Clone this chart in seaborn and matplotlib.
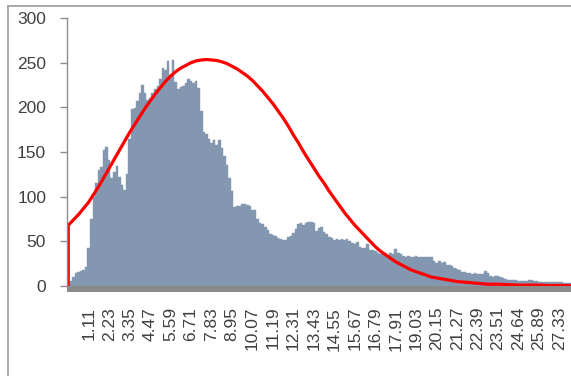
import numpy as np
import matplotlib
matplotlib.use("Agg")
import matplotlib.pyplot as plt
import seaborn as sns
from matplotlib.lines import Line2D
from matplotlib.patches import Rectangle

sns.set_style("white")
plt.rcParams['font.family'] = ['Liberation Sans', 'DejaVu Sans']

# histogram counts per bin (197 bins)
counts = [
    3, 6, 10, 14, 16, 17, 18, 21, 42, 75,
    100, 115, 130, 133, 152, 156, 141, 121, 128, 134,
    122, 113, 107, 125, 165, 198, 199, 207, 216, 225,
    216, 208, 211, 216, 220, 224, 232, 244, 242, 252,
    236, 253, 228, 220, 223, 224, 227, 232, 230, 227,
    229, 222, 196, 172, 170, 164, 160, 163, 158, 163,
    155, 146, 135, 121, 106, 88, 90, 89, 92, 92,
    91, 89, 85, 85, 75, 70, 69, 66, 63, 58,
    57, 56, 54, 53, 52, 51, 55, 56, 59, 64,
    69, 70, 68, 70, 72, 72, 71, 62, 65, 66,
    60, 58, 55, 54, 51, 53, 51, 53, 52, 53,
    50, 48, 47, 49, 44, 43, 42, 47, 40, 40,
    39, 37, 36, 36, 36, 35, 37, 36, 41, 37,
    36, 34, 32, 34, 33, 32, 34, 32, 33, 32,
    32, 32, 33, 28, 26, 28, 26, 27, 24, 23,
    22, 20, 19, 18, 16, 16, 15, 14, 13, 14,
    13, 13, 13, 17, 15, 11, 10, 11, 11, 10,
    9, 8, 7, 7, 7, 7, 6, 6, 6, 6,
    7, 7, 6, 6, 5, 5, 5, 4, 4, 4,
    4, 4, 4, 4, 3, 3, 3,
]

# fitted curve, read every 2nd bin (first point is the drop to zero at the axis)
curve_bins = [0, 0, 2, 4, 6, 8, 10, 12, 14, 16, 18, 20, 22, 24, 26, 28, 30,
              32, 34, 36, 38, 40, 42, 44, 46, 48, 50, 52, 54, 56, 58, 60, 62,
              64, 66, 68, 70, 72, 74, 76, 78, 80, 82, 84, 86, 88, 90, 92, 94,
              96, 98, 100, 102, 104, 106, 108, 110, 112, 114, 116, 118, 120,
              122, 124, 126, 128, 130, 132, 134, 136, 138, 140, 142, 144, 146,
              148, 150, 152, 154, 156, 160, 164, 168, 172, 176, 180, 184, 188,
              192, 196]
curve_vals = [0, 68, 74, 80, 87, 94, 103, 112, 122, 132, 142, 152, 162, 172,
              181, 190, 199, 207, 215, 222, 229, 235, 240, 244, 247, 250, 252,
              253, 253.5, 253, 252.5, 251, 249, 246, 243, 239, 235, 230, 224,
              218, 211, 204, 196, 188, 179, 169, 160, 150, 141, 132, 123, 115,
              106, 98, 90, 82, 75, 68, 62, 56, 50, 44, 39, 35, 31, 27, 24, 21,
              18, 16, 14, 12, 10, 9, 8, 7, 6, 5, 4.5, 4, 3, 2, 2, 1.5, 1, 1, 1,
              0.5, 0.5, 0.5]

tick_labels = ["1.11", "2.23", "3.35", "4.47", "5.59", "6.71", "7.83", "8.95",
               "10.07", "11.19", "12.31", "13.43", "14.55", "15.67", "16.79",
               "17.91", "19.03", "20.15", "21.27", "22.39", "23.51", "24.64",
               "25.89", "27.33"]
tick_every = 8

bar_color = "#8497b0"
text_color = "#404040"
axis_gray = "#8c8c8c"

fig = plt.figure(figsize=(5.71, 3.76), dpi=100)
ax = fig.add_axes([67 / 571, 90 / 376, 1 - 67 / 571, 268 / 376])

sns.barplot(x=list(range(len(counts))), y=counts, color=bar_color, saturation=1,
            width=1.0, edgecolor=bar_color, linewidth=0.3, ax=ax)
sns.lineplot(x=curve_bins, y=curve_vals, color="red", linewidth=2.3,
             estimator=None, sort=False, ax=ax)

ax.set_xlim(-0.5, len(counts) - 0.5)
ax.set_ylim(0, 300)
ax.set_yticks(range(0, 301, 50))
ax.set_xticks([tick_every * (k + 1) for k in range(len(tick_labels))])
ax.set_xticklabels(tick_labels, rotation=90)
ax.set_xlabel("")
ax.set_ylabel("")

ax.tick_params(axis="y", labelsize=12.5, labelcolor=text_color, colors=axis_gray,
               length=5, width=1, pad=10, left=True)
ax.tick_params(axis="x", labelsize=12.5, labelcolor=text_color, length=0, pad=15)

for side in ["top", "right", "bottom"]:
    ax.spines[side].set_visible(False)
ax.spines["left"].set_color(axis_gray)
ax.spines["left"].set_linewidth(1)

# grey floor band under the category axis
ax.add_patch(Rectangle((0, -6 / 268), 1, 6 / 268, transform=ax.transAxes,
                       color="#8a8a8a", clip_on=False, lw=0))

# outer chart frame (picture is cropped on right and bottom)
fig.add_artist(Line2D([7.5 / 571, 7.5 / 571], [0, 1 - 6 / 376], color="#9a9a9a", lw=1.2))
fig.add_artist(Line2D([7.5 / 571, 1], [1 - 6 / 376, 1 - 6 / 376], color="#9a9a9a", lw=1.2))

fig.savefig("out.png", dpi=100)
